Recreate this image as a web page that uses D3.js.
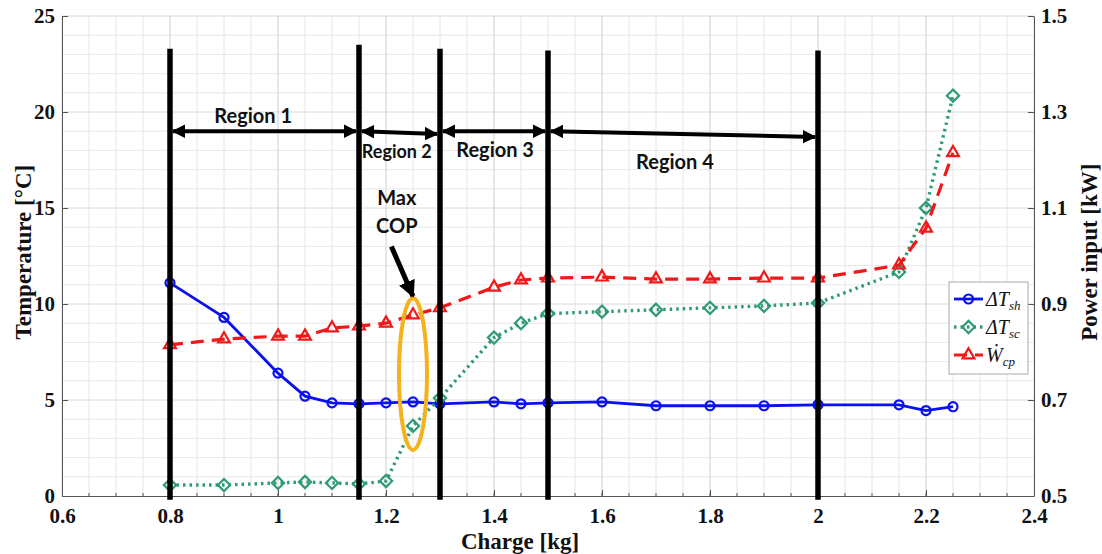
<!DOCTYPE html>
<html>
<head>
<meta charset="utf-8">
<style>
  body { margin: 0; background: #fff; }
  .axtitle { font: bold 23px "Liberation Serif", "Times New Roman", serif; fill: #111; }
  .note { font-family: Lato, "Open Sans", sans-serif; font-weight: bold; fill: #111; }
  .leg { font: italic 20px "Liberation Serif", "DejaVu Serif", serif; fill: #111; }
</style>
</head>
<body>
<svg id="chart" width="1102" height="554"></svg>
<script src="https://cdn.jsdelivr.net/npm/d3@7"></script>
<script>
// charge levels [kg]
var charge = [0.8, 0.9, 1.0, 1.05, 1.1, 1.15, 1.2, 1.25, 1.3, 1.4, 1.45, 1.5, 1.6, 1.7, 1.8, 1.9, 2.0, 2.15, 2.2, 2.25];
// superheat [°C]
var dTsh = [11.1, 9.3, 6.4, 5.2, 4.85, 4.8, 4.85, 4.9, 4.8, 4.9, 4.8, 4.85, 4.9, 4.7, 4.7, 4.7, 4.75, 4.75, 4.45, 4.65];
// subcooling [°C]
var dTsc = [0.57, 0.57, 0.68, 0.73, 0.68, 0.63, 0.78, 3.65, 5.1, 8.25, 9.0, 9.5, 9.6, 9.7, 9.8, 9.9, 10.05, 11.67, 15.0, 20.85];
// compressor power [kW]
var wcp = [0.815, 0.827, 0.833, 0.833, 0.85, 0.854, 0.86, 0.877, 0.892, 0.935, 0.95, 0.954, 0.956, 0.952, 0.952, 0.954, 0.954, 0.981, 1.058, 1.215];

var xTicks = [0.6, 0.8, 1, 1.2, 1.4, 1.6, 1.8, 2, 2.2, 2.4];
var yTicks = [0, 5, 10, 15, 20, 25];
var y2Ticks = [0.5, 0.7, 0.9, 1.1, 1.3, 1.5];

// region annotation
var regionBounds = [0.8, 1.15, 1.3, 1.5, 2.0];
var regionTops = [23.3, 23.5, 23.3, 23.2, 23.2];
var regionNames = ["Region 1", "Region 2", "Region 3", "Region 4"];
var arrowStartT = [19, 19, 19, 19];
var arrowEndT = [19, 18.85, 19, 18.7];
var labelT = [19.45, 17.6, 17.65, 17.05];
var labelX = [0.954, 1.22, 1.402, 1.735];
var labelSize = [20, 18, 20, 20];

var svg = d3.select("#chart");
var m = {l: 62, r: 68, t: 16, b: 58};
var W = 1102, H = 554;

var x = d3.scaleLinear().domain([0.6, 2.4]).range([m.l, W - m.r]);
var y = d3.scaleLinear().domain([0, 25]).range([H - m.b, m.t]);
var y2 = d3.scaleLinear().domain([0.5, 1.5]).range([H - m.b, m.t]);

// grid
var g = svg.append("g");
g.selectAll(".mx").data(d3.range(0.65, 2.4, 0.05)).enter().append("line")
  .attr("x1", function(d) { return x(d); }).attr("x2", function(d) { return x(d); })
  .attr("y1", y(0)).attr("y2", y(25))
  .attr("stroke", "#e6e6e6").attr("stroke-width", 1);
g.selectAll(".my").data(d3.range(1, 25, 1)).enter().append("line")
  .attr("x1", x(0.6)).attr("x2", x(2.4))
  .attr("y1", function(d) { return y(d); }).attr("y2", function(d) { return y(d); })
  .attr("stroke", function(d) { return d % 5 == 0 ? "#dadada" : "#e8e8e8"; }).attr("stroke-width", 1);
g.selectAll(".Mx").data(xTicks).enter().append("line")
  .attr("x1", function(d) { return x(d); }).attr("x2", function(d) { return x(d); })
  .attr("y1", y(0)).attr("y2", y(25))
  .attr("stroke", "#dadada").attr("stroke-width", 1);

// frame top
svg.append("line").attr("x1", x(0.6)).attr("x2", x(2.4)).attr("y1", y(25)).attr("y2", y(25))
  .attr("stroke", "#d8d8d8");

// axes
var xAxis = svg.append("g").attr("transform", "translate(0," + y(0) + ")")
  .call(d3.axisBottom(x).tickValues(xTicks).tickSizeInner(-6).tickSizeOuter(0).tickPadding(12)
    .tickFormat(function(d) { return d3.format("")(+d.toFixed(1)); }));
var yAxis = svg.append("g").attr("transform", "translate(" + x(0.6) + ",0)")
  .call(d3.axisLeft(y).tickValues(yTicks).tickSizeInner(-6).tickSizeOuter(0).tickPadding(7));
var yAxis2 = svg.append("g").attr("transform", "translate(" + x(2.4) + ",0)")
  .call(d3.axisRight(y2).tickValues(y2Ticks).tickSizeInner(-6).tickSizeOuter(0).tickPadding(7)
    .tickFormat(d3.format(".1f")));
[xAxis, yAxis, yAxis2].forEach(function(a) {
  a.select(".domain").attr("stroke", "#555");
  a.selectAll(".tick line").attr("stroke", "#555");
  a.selectAll(".tick text")
    .style("font-family", "'Liberation Serif', 'Times New Roman', serif")
    .style("font-weight", "bold").style("font-size", "21px").style("fill", "#111");
});
yAxis.selectAll(".tick text").attr("dy", "0.32em");
yAxis2.selectAll(".tick text").attr("dy", "0.32em");
xAxis.selectAll(".tick text").attr("dy", "0.71em");
// minor ticks on bottom
svg.selectAll(".mt").data(d3.range(0.65, 2.4, 0.05)).enter().append("line")
  .attr("x1", function(d) { return x(d); }).attr("x2", function(d) { return x(d); })
  .attr("y1", y(0)).attr("y2", y(0) - 3).attr("stroke", "#555");

svg.append("text").attr("class", "axtitle").attr("text-anchor", "middle")
  .attr("transform", "translate(31," + y(12.7) + ") rotate(-90)").text("Temperature [°C]");
svg.append("text").attr("class", "axtitle").attr("text-anchor", "middle")
  .attr("transform", "translate(1097," + y(12.7) + ") rotate(-90)").text("Power input [kW]");
svg.append("text").attr("class", "axtitle").attr("text-anchor", "middle")
  .attr("x", x(1.5) - 28).attr("y", 549).text("Charge [kg]");

// series
var series = [
  {vals: dTsh, sc: y, color: "#0a10ee", dash: null, w: 2.8, sym: d3.symbolCircle, size: 64},
  {vals: dTsc, sc: y, color: "#2f9a78", dash: "2.5,4", w: 3.4, sym: d3.symbolDiamond2, size: 95},
  {vals: wcp, sc: y2, color: "#f01818", dash: "13,8", w: 3.2, sym: d3.symbolTriangle, size: 60}
];
series.forEach(function(s) {
  var line = d3.line().x(function(d, i) { return x(charge[i]); }).y(function(d) { return s.sc(d); });
  svg.append("path").datum(s.vals).attr("d", line).attr("fill", "none")
    .attr("stroke", s.color).attr("stroke-width", s.w)
    .attr("stroke-dasharray", s.dash);
  svg.selectAll(null).data(s.vals).enter().append("path")
    .attr("transform", function(d, i) { return "translate(" + x(charge[i]) + "," + s.sc(d) + ")"; })
    .attr("d", d3.symbol().type(s.sym).size(s.size))
    .attr("fill", "none").attr("stroke", s.color).attr("stroke-width", 2.2);
});

// legend
var leg = svg.append("g").attr("transform", "translate(949,282)");
leg.append("rect").attr("width", 79).attr("height", 92).attr("fill", "#fff").attr("stroke", "#aaa");
var legLab = [["ΔT", "sh"], ["ΔT", "sc"], ["Ẇ", "cp"]];
series.forEach(function(s, i) {
  var yy = 17 + i * 28;
  leg.append("line").attr("x1", 5).attr("x2", 34).attr("y1", yy).attr("y2", yy)
    .attr("stroke", s.color).attr("stroke-width", s.w).attr("stroke-dasharray", s.dash);
  leg.append("path").attr("transform", "translate(19.5," + yy + ")")
    .attr("d", d3.symbol().type(s.sym).size(s.size)).attr("fill", "none")
    .attr("stroke", s.color).attr("stroke-width", 2.2);
  var t = leg.append("text").attr("class", "leg").attr("x", 37).attr("y", yy + 7);
  t.append("tspan").text(legLab[i][0]);
  t.append("tspan").attr("dy", 4).attr("font-size", 13).text(legLab[i][1]);
});

// region lines
svg.selectAll(".rl").data(regionBounds).enter().append("line")
  .attr("x1", function(d) { return x(d); }).attr("x2", function(d) { return x(d); })
  .attr("y1", function(d, i) { return y(regionTops[i]); }).attr("y2", y(-0.2))
  .attr("stroke", "#000").attr("stroke-width", 5.5);

// arrowheads
var defs = svg.append("defs");
defs.append("marker").attr("id", "ah").attr("viewBox", "0 0 10 10").attr("refX", 9).attr("refY", 5)
  .attr("markerWidth", 3.4).attr("markerHeight", 3.4).attr("markerUnits", "strokeWidth").attr("orient", "auto-start-reverse")
  .append("path").attr("d", "M0,0L10,5L0,10z").attr("fill", "#000");

regionNames.forEach(function(n, i) {
  svg.append("line")
    .attr("x1", x(regionBounds[i]) + 3).attr("x2", x(regionBounds[i + 1]) - 3)
    .attr("y1", y(arrowStartT[i])).attr("y2", y(arrowEndT[i]))
    .attr("stroke", "#000").attr("stroke-width", 4)
    .attr("marker-start", "url(#ah)").attr("marker-end", "url(#ah)");
  svg.append("text").attr("class", "note").attr("text-anchor", "middle")
    .attr("x", x(labelX[i])).attr("y", y(labelT[i]))
    .attr("font-size", labelSize[i]).text(n);
});

// max COP callout
var copX = 1.25, copTop = 10.3, copBot = 2.4;
svg.append("ellipse").attr("cx", x(copX)).attr("cy", (y(copTop) + y(copBot)) / 2)
  .attr("rx", 14).attr("ry", (y(copBot) - y(copTop)) / 2)
  .attr("fill", "none").attr("stroke", "#f5b21a").attr("stroke-width", 4);
svg.append("text").attr("class", "note").attr("text-anchor", "middle").attr("font-size", 20)
  .attr("x", x(1.22)).attr("y", y(15.15)).text("Max");
svg.append("text").attr("class", "note").attr("text-anchor", "middle").attr("font-size", 20)
  .attr("x", x(1.22)).attr("y", y(13.7)).text("COP");
svg.append("line").attr("x1", x(1.21)).attr("y1", y(13.0))
  .attr("x2", x(copX)).attr("y2", y(copTop) - 2)
  .attr("stroke", "#000").attr("stroke-width", 5).attr("marker-end", "url(#ah)");
</script>
</body>
</html>
